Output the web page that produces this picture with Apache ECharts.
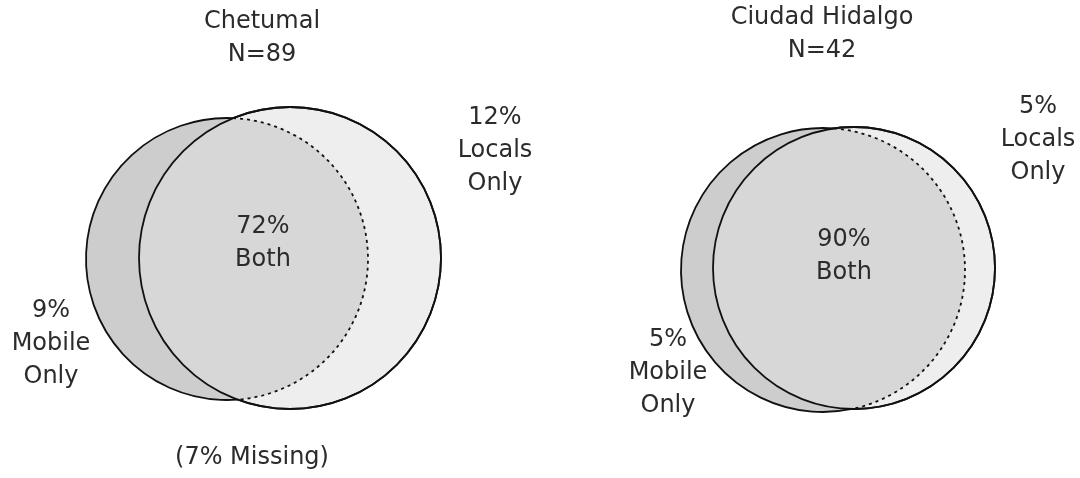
<!DOCTYPE html>
<html>
<head>
<meta charset="utf-8">
<title>Mobile vs Locals</title>
<script src="https://cdn.jsdelivr.net/npm/echarts@6/dist/echarts.min.js"></script>
<style>
  html, body { margin: 0; padding: 0; background: #fff; }
  #chart { width: 1080px; height: 478px; }
</style>
</head>
<body>
<div id="chart"></div>
<script>
// survey sites
const places = ['Chetumal', 'Ciudad Hidalgo'];
const sampleN = [89, 42];
// percentages per site
const mobileOnly = [9, 5];
const both = [72, 90];
const localsOnly = [12, 5];
const missing = [7, null];

// circle layout in axis units: [cx, cy, r]
const mobileCircle = [[227, 259, 141], [823, 270, 142]];
const localsCircle = [[290, 258, 151], [854, 268, 141]];
// label anchors in axis units
const titlePos = [[262, 38], [822, 34]];
const mobileLabelPos = [[51, 344], [668, 373]];
const bothLabelPos = [[263, 243], [844, 256]];
const localsLabelPos = [[495, 151], [1038, 140]];
const missingPos = [[252, 458], null];

const FONT = 'DejaVu Sans';
const INK = '#2b2b2b';

function label(api, pos, text) {
  const p = api.coord(pos);
  return {
    type: 'text',
    style: {
      text: text,
      x: p[0],
      y: p[1],
      align: 'center',
      verticalAlign: 'middle',
      fontFamily: FONT,
      fontSize: 24,
      lineHeight: 33,
      fill: INK
    }
  };
}

function renderVenn(params, api) {
  const i = params.dataIndex;
  const m = mobileCircle[i], l = localsCircle[i];
  const c1 = api.coord([m[0], m[1]]);
  const c2 = api.coord([l[0], l[1]]);
  const r1 = api.size([m[2], 0])[0];
  const r2 = api.size([l[2], 0])[0];

  // where the two circles cross
  const dx = c2[0] - c1[0], dy = c2[1] - c1[1];
  const d = Math.sqrt(dx * dx + dy * dy);
  const a = (r1 * r1 - r2 * r2 + d * d) / (2 * d);
  const h = Math.sqrt(Math.max(r1 * r1 - a * a, 0));
  const mx = c1[0] + a * dx / d, my = c1[1] + a * dy / d;
  const T = [mx + h * dy / d, my - h * dx / d];
  const B = [mx - h * dy / d, my + h * dx / d];
  const top = T[1] < B[1] ? T : B;
  const bot = T[1] < B[1] ? B : T;
  const pt = q => q[0].toFixed(2) + ' ' + q[1].toFixed(2);

  const lens = 'M ' + pt(top) + ' A ' + r1 + ' ' + r1 + ' 0 0 1 ' + pt(bot) +
    ' A ' + r2 + ' ' + r2 + ' 0 0 1 ' + pt(top) + ' Z';
  const mobileOuter = 'M ' + pt(top) + ' A ' + r1 + ' ' + r1 + ' 0 1 0 ' + pt(bot);
  const mobileInner = 'M ' + pt(top) + ' A ' + r1 + ' ' + r1 + ' 0 0 1 ' + pt(bot);

  const children = [
    { type: 'circle', shape: { cx: c2[0], cy: c2[1], r: r2 },
      style: { fill: '#eeeeee', stroke: '#111', lineWidth: 1.8 } },
    { type: 'circle', shape: { cx: c1[0], cy: c1[1], r: r1 },
      style: { fill: '#cdcdcd' } },
    { type: 'path', shape: { pathData: lens },
      style: { fill: '#d7d7d7' } },
    { type: 'path', shape: { pathData: mobileOuter },
      style: { fill: null, stroke: '#111', lineWidth: 1.8 } },
    { type: 'path', shape: { pathData: mobileInner },
      style: { fill: null, stroke: '#111', lineWidth: 1.8, lineDash: [3, 4] } },
    { type: 'circle', shape: { cx: c2[0], cy: c2[1], r: r2 },
      style: { fill: null, stroke: '#111', lineWidth: 1.8 } },

    label(api, titlePos[i], places[i] + '\nN=' + sampleN[i]),
    label(api, mobileLabelPos[i], mobileOnly[i] + '%\nMobile\nOnly'),
    label(api, bothLabelPos[i], both[i] + '%\nBoth'),
    label(api, localsLabelPos[i], localsOnly[i] + '%\nLocals\nOnly')
  ];
  if (missing[i] != null) {
    children.push(label(api, missingPos[i], '(' + missing[i] + '% Missing)'));
  }
  return { type: 'group', children: children };
}

const chart = echarts.init(document.getElementById('chart'));
chart.setOption({
  animation: false,
  backgroundColor: '#ffffff',
  grid: { left: 0, right: 0, top: 0, bottom: 0 },
  xAxis: { type: 'value', min: 0, max: 1080, show: false },
  yAxis: { type: 'value', min: 0, max: 478, inverse: true, show: false },
  series: [{
    type: 'custom',
    renderItem: renderVenn,
    data: places.map((p, i) => [mobileCircle[i][0], mobileCircle[i][1]]),
    silent: true
  }]
});

window.addEventListener('resize', () => {
  chart.resize();
});
</script>
</body>
</html>
